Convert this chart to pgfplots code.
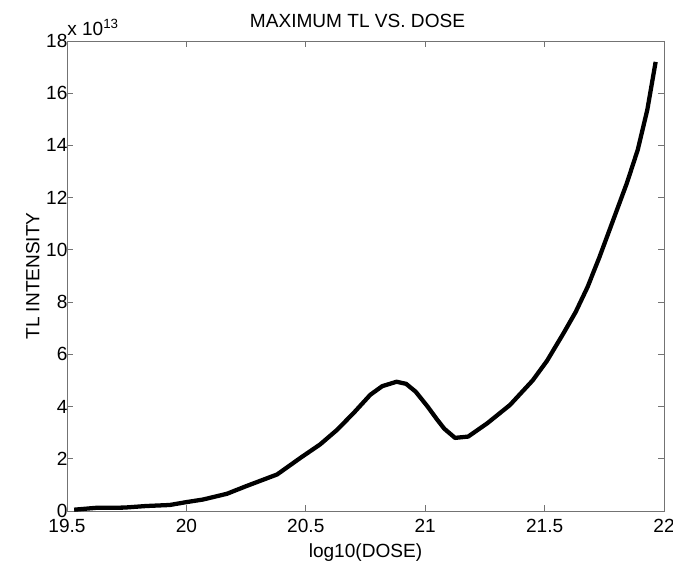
\documentclass[border=0pt]{standalone}
\usepackage{fontspec}
\setmainfont{Liberation Sans}
\usepackage{pgfplots}
\pgfplotsset{compat=1.18}
\begin{document}
\fontsize{14.3}{17}\selectfont
\begin{tikzpicture}
\begin{axis}[
  scale only axis,
  width=447.75pt, height=352.5pt,
  xmin=19.5, xmax=22, ymin=0, ymax=18,
  xtick={19.5,20,20.5,21,21.5,22},
  xticklabels={19.5,20,20.5,21,21.5,22},
  ytick={0,2,4,6,8,10,12,14,16,18},
  yticklabels={0,2,4,6,8,10,12,14,16,18},
  tick align=inside,
  major tick length=4.5pt,
  axis line style={draw=black!55, line width=0.6pt},
  every tick/.style={draw=black!55, line width=0.6pt},
  tick label style={font=\fontsize{14.3}{17}\selectfont},
  xticklabel style={yshift=-5pt, inner sep=1pt},
  yticklabel style={xshift=1.5pt, inner sep=1pt},
  title={MAXIMUM TL VS. DOSE},
  title style={font=\fontsize{14.3}{17}\selectfont, yshift=-1pt, xshift=-6pt},
  xlabel={log10(DOSE)},
  ylabel={TL INTENSITY},
  label style={font=\fontsize{14.3}{17}\selectfont},
  xlabel style={yshift=-2pt},
  ylabel style={yshift=-1pt},
  clip=false,
]
\addplot[black, line width=3.2pt, line join=round] coordinates {
(19.53,0.05) (19.62,0.12) (19.74,0.13) (19.83,0.19) (19.93,0.23)
(20.00,0.34) (20.07,0.44) (20.17,0.66) (20.25,0.95) (20.38,1.40)
(20.48,2.05) (20.56,2.55) (20.63,3.10) (20.70,3.75) (20.77,4.45)
(20.82,4.78) (20.88,4.95) (20.92,4.87) (20.96,4.57) (21.01,4.00)
(21.05,3.50) (21.08,3.15) (21.125,2.80) (21.18,2.85) (21.26,3.36)
(21.355,4.06) (21.45,5.00) (21.51,5.75) (21.58,6.82) (21.63,7.62)
(21.68,8.58) (21.73,9.73) (21.775,10.84) (21.845,12.57) (21.89,13.83)
(21.93,15.36) (21.965,17.2)
};
\node[anchor=south west, inner sep=0pt, font=\fontsize{14.3}{17}\selectfont] at ([yshift=4pt]rel axis cs:0,1) {x 10\textsuperscript{13}};
\coordinate (sw) at (rel axis cs:0,0);
\coordinate (ne) at (rel axis cs:1,1);
\end{axis}
\pgfresetboundingbox
\path[use as bounding box] ([xshift=-50.25pt,yshift=-38.25pt]sw) rectangle ([xshift=6.75pt,yshift=30.75pt]ne);
\end{tikzpicture}
\end{document}
